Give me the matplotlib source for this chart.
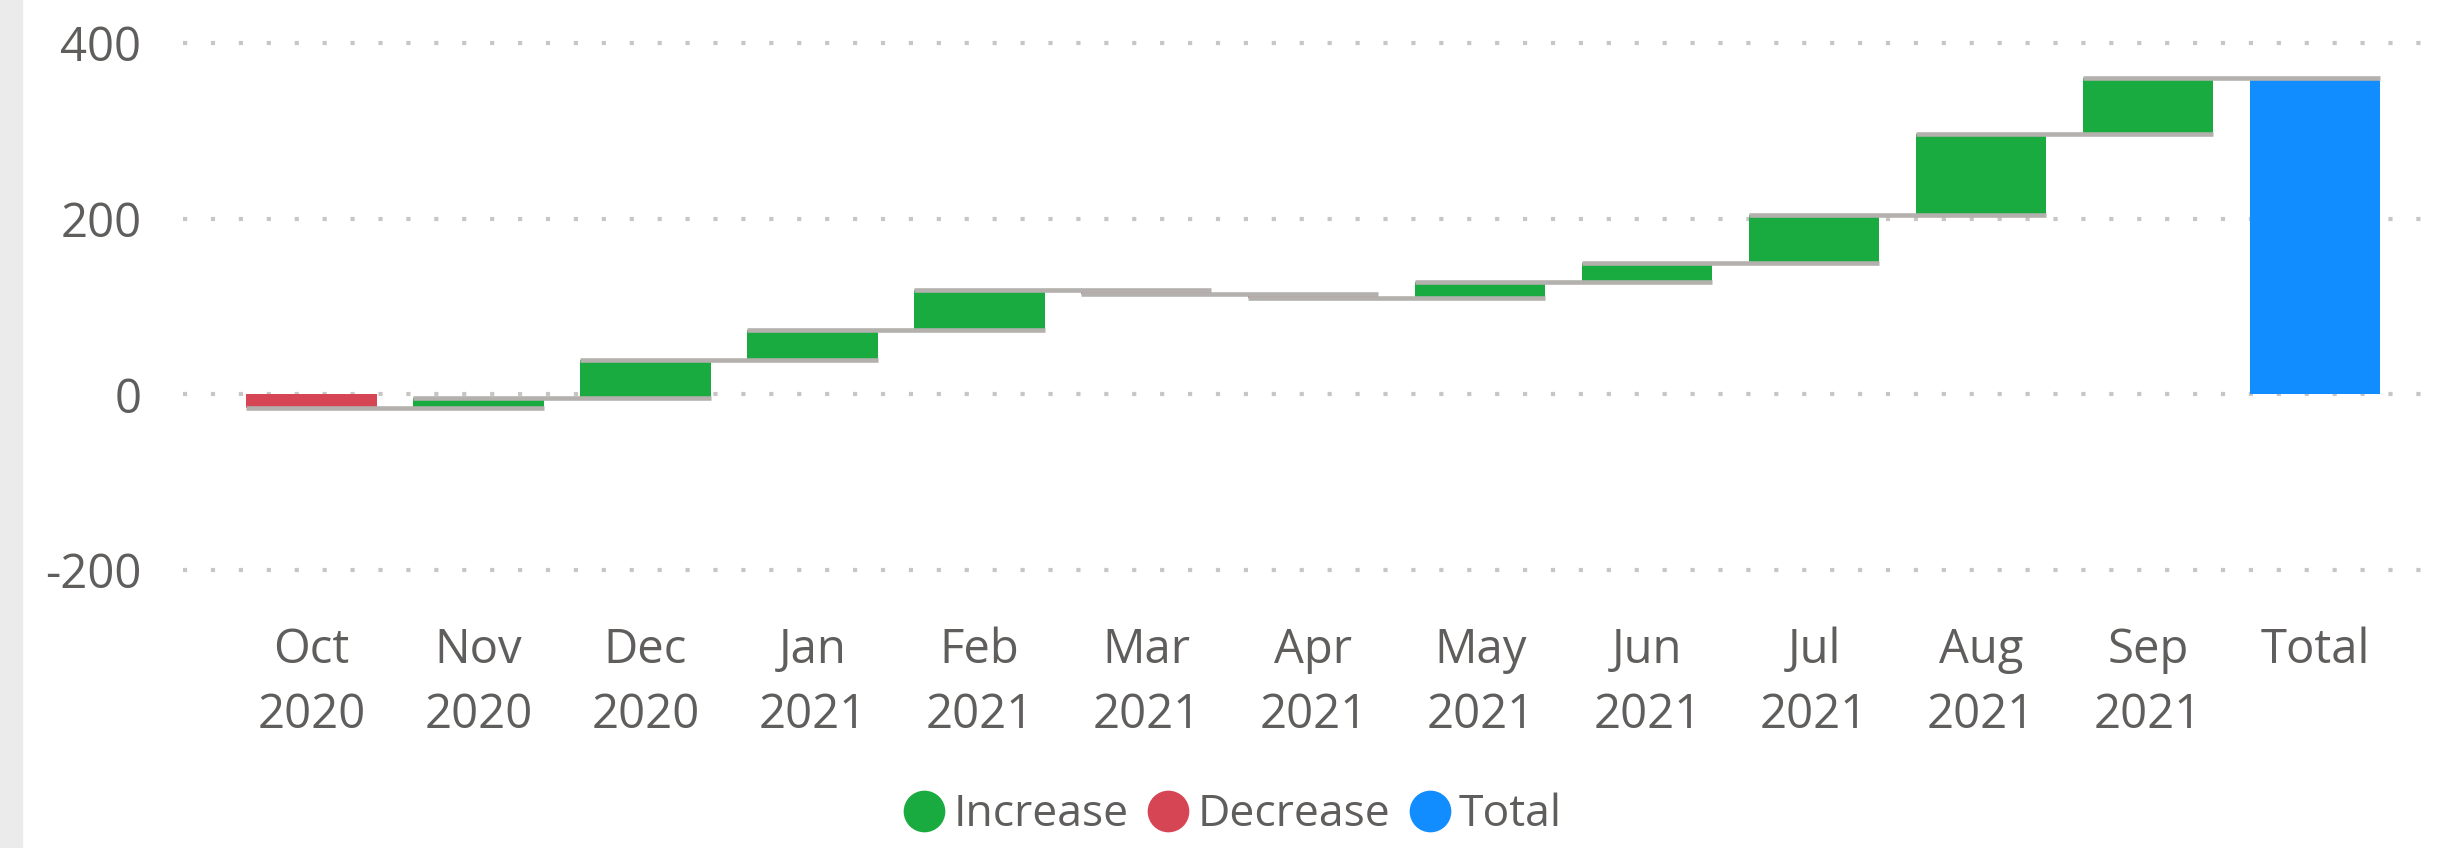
import matplotlib
matplotlib.use("Agg")
import matplotlib.pyplot as plt
from matplotlib.lines import Line2D
from matplotlib.patches import Rectangle
import numpy as np

# monthly changes
months = ["Oct\n2020", "Nov\n2020", "Dec\n2020", "Jan\n2021", "Feb\n2021", "Mar\n2021",
          "Apr\n2021", "May\n2021", "Jun\n2021", "Jul\n2021", "Aug\n2021", "Sep\n2021"]
changes = [-16, 12, 43, 34, 46, -5, -4, 18, 22, 54, 92, 64]
total_label = "Total"
yticks = [-200, 0, 200, 400]

GREEN = "#1AAB40"
RED = "#D64554"
BLUE = "#118DFF"
CONN = "#B3B0AD"
TEXT = "#605E5C"
GRID = "#C8C6C4"

plt.rcParams['font.family'] = ['Open Sans', 'DejaVu Sans']

W, H = 2437, 848
fig = plt.figure(figsize=(W / 100, H / 100), dpi=100)
fig.patches.append(Rectangle((0, 0), 22 / W, 1, transform=fig.transFigure,
                             color="#EBEBEB", zorder=0))

ax = fig.add_axes([183 / W, 1 - 579 / H, 1 - 183 / W, 545 / H])

ends = np.cumsum(changes)
starts = ends - np.array(changes)
total = ends[-1]
n = len(months)
width = 0.78

for i in range(n):
    c = GREEN if changes[i] >= 0 else RED
    ax.bar(i, changes[i], bottom=starts[i], width=width, color=c, zorder=3, linewidth=0)
ax.bar(n, total, bottom=0, width=width, color=BLUE, zorder=3, linewidth=0)

# connectors drawn over the bars
for i in range(n):
    ax.plot([i - width / 2, i + 1 + width / 2], [ends[i], ends[i]],
            color=CONN, lw=3.3, solid_capstyle="butt", zorder=4)

ax.set_xlim(-0.77, n + 0.73)
ax.set_ylim(-210, 410)
ax.set_yticks(yticks)
ax.set_yticklabels([str(v) for v in yticks])
ax.set_xticks(range(n + 1))
ax.set_xticklabels(months + [total_label], linespacing=1.5)

for v in yticks:
    ax.axhline(v, color=GRID, lw=3.0, linestyle=(0, (1, 5.7)), zorder=1)

for s in ax.spines.values():
    s.set_visible(False)
ax.tick_params(axis="both", length=0, labelsize=34, colors=TEXT)
ax.tick_params(axis="y", pad=30)
ax.tick_params(axis="x", pad=34)
for lab in ax.get_xticklabels():
    lab.set_verticalalignment("top")

handles = [Line2D([], [], marker="o", linestyle="none", markersize=29, color=c)
           for c in (GREEN, RED, BLUE)]
fig.legend(handles, ["Increase", "Decrease", "Total"], loc="center",
           bbox_to_anchor=(0.5055, 0.039), ncol=3, frameon=False,
           fontsize=32, labelcolor=TEXT, handletextpad=0.15, columnspacing=0.4,
           handlelength=1.0)

fig.savefig("out.png", dpi=100, facecolor="white")
